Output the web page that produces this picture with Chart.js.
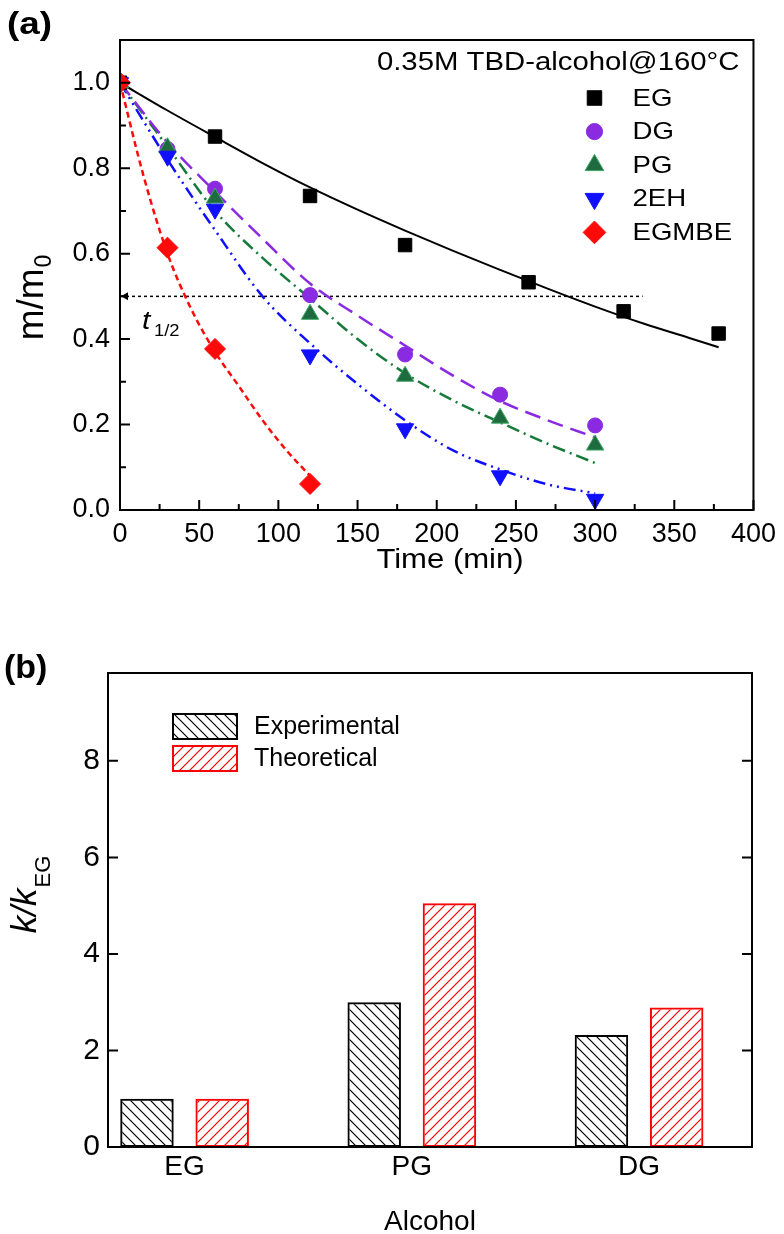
<!DOCTYPE html>
<html>
<head>
<meta charset="utf-8">
<script src="https://cdn.jsdelivr.net/npm/chart.js@4.4.1/dist/chart.umd.min.js"></script>
<style>
  body { margin: 0; background: #fff; }
  #wrap { position: relative; width: 784px; height: 1234px; }
  canvas { position: absolute; left: 0; }
  #chartA { top: 0; }
  #chartB { top: 590px; }
</style>
</head>
<body>
<div id="wrap">
  <canvas id="chartA" width="784" height="590"></canvas>
  <canvas id="chartB" width="784" height="644"></canvas>
</div>
<script>
var FONT = "'Liberation Sans', Arial, sans-serif";

// ---- (a) measured m/m0 against time (min)
var egTime = [0, 60, 120, 180, 258, 318, 378];
var egMass = [1.0, 0.874, 0.735, 0.620, 0.533, 0.465, 0.413];
var dgTime = [0, 30, 60, 120, 180, 240, 300];
var dgMass = [1.0, 0.845, 0.752, 0.503, 0.364, 0.270, 0.198];
var pgTime = [0, 30, 60, 120, 180, 240, 300];
var pgMass = [1.0, 0.848, 0.730, 0.458, 0.313, 0.215, 0.152];
var ehTime = [0, 30, 60, 120, 180, 240, 300];
var ehMass = [1.0, 0.828, 0.704, 0.363, 0.190, 0.080, 0.025];
var egmbeTime = [0, 30, 60, 120];
var egmbeMass = [1.0, 0.614, 0.377, 0.061];

// fitted curves
var egFitTime = [0, 30, 60, 90, 120, 150, 180, 210, 240, 270, 300, 330, 360, 378];
var egFitMass = [1.0, 0.935, 0.873, 0.812, 0.755, 0.703, 0.654, 0.607, 0.562, 0.518, 0.476, 0.437, 0.402, 0.381];
var dgFitTime = [0, 30, 60, 90, 120, 150, 180, 210, 240, 270, 300];
var dgFitMass = [1.0, 0.86, 0.745, 0.635, 0.53, 0.455, 0.385, 0.315, 0.255, 0.21, 0.17];
var pgFitTime = [0, 30, 60, 90, 120, 150, 180, 210, 240, 270, 300];
var pgFitMass = [1.0, 0.85, 0.70, 0.59, 0.495, 0.40, 0.32, 0.257, 0.205, 0.155, 0.11];
var ehFitTime = [0, 30, 60, 90, 120, 150, 180, 210, 240, 270, 300];
var ehFitMass = [1.0, 0.82, 0.655, 0.50, 0.39, 0.295, 0.21, 0.14, 0.095, 0.06, 0.039];
var egmbeFitTime = [0, 15, 30, 45, 60, 75, 90, 105, 120];
var egmbeFitMass = [1.0, 0.78, 0.60, 0.47, 0.37, 0.29, 0.21, 0.14, 0.08];

// half-life guide line
var halfTime = [0, 330];
var halfMass = [0.5, 0.5];

var xTicksA = { min: 0, max: 400, minor: 25, major: 50 };
var yTicksA = { min: 0, max: 1.1, minor: 0.1 };
var legendTitleA = '0.35M TBD-alcohol@160\u00B0C';

// ---- (b) rate constant ratio
var alcohols = ['EG', 'PG', 'DG'];
var experimental = [1.0, 3.0, 2.32];
var theoretical = [1.0, 5.05, 2.89];
var yTicksB = [0, 2, 4, 6, 8];

// the top panel of the original is slightly stretched sideways
var SX = 1.15;

function pts(xs, ys) {
  return xs.map(function (x, i) { return { x: x, y: ys[i] }; });
}

function hatch(color, dir) {
  var c = document.createElement('canvas');
  c.width = 10; c.height = 10;
  var g = c.getContext('2d');
  g.strokeStyle = color;
  g.lineWidth = 1.2;
  g.beginPath();
  if (dir === '/') {
    g.moveTo(0, 10); g.lineTo(10, 0);
    g.moveTo(-2, 2); g.lineTo(2, -2);
    g.moveTo(8, 12); g.lineTo(12, 8);
  } else {
    g.moveTo(0, 0); g.lineTo(10, 10);
    g.moveTo(-2, 8); g.lineTo(2, 12);
    g.moveTo(8, -2); g.lineTo(12, 2);
  }
  g.stroke();
  return g.createPattern(c, 'repeat');
}

function wideText(ctx, text, x, y, sx) {
  ctx.save();
  ctx.translate(x, y);
  ctx.scale(sx, 1);
  ctx.fillText(text, 0, 0);
  ctx.restore();
}

function drawSub(ctx, main, mainFont, sub, subFont, drop) {
  ctx.font = mainFont;
  var w1 = ctx.measureText(main).width;
  ctx.font = subFont;
  var w2 = ctx.measureText(sub).width;
  var x0 = -(w1 + w2) / 2;
  ctx.font = mainFont;
  ctx.fillText(main, x0, 0);
  ctx.font = subFont;
  ctx.fillText(sub, x0 + w1 + 1, drop);
}

/*
 (a) データ点と近似曲線
*/
var series = [
  { name: 'EG', t: egTime, m: egMass, fill: '#000000', edge: '#000000', style: 'rect', r: 9.5, rot: 0, order: 5 },
  { name: 'DG', t: dgTime, m: dgMass, fill: '#8a2be2', edge: '#8a2be2', style: 'circle', r: 7.5, rot: 0, order: 4 },
  { name: 'PG', t: pgTime, m: pgMass, fill: '#1f6a3e', edge: '#3aa860', style: 'triangle', r: 10, rot: 0, order: 3 },
  { name: '2EH', t: ehTime, m: ehMass, fill: '#1010ff', edge: '#1010ff', style: 'triangle', r: 10, rot: 180, order: 2 },
  { name: 'EGMBE', t: egmbeTime, m: egmbeMass, fill: '#ff0a0a', edge: '#ff0a0a', style: 'rectRot', r: 10.5, rot: 0, order: 1 }
];
var fits = [
  { t: egFitTime, m: egFitMass, color: '#000000', dash: [], w: 2 },
  { t: dgFitTime, m: dgFitMass, color: '#8a2be2', dash: [16, 8], w: 2.5 },
  { t: pgFitTime, m: pgFitMass, color: '#157a3a', dash: [13, 5, 2, 5], w: 2.5 },
  { t: ehFitTime, m: ehFitMass, color: '#1010ff', dash: [12, 5, 2, 5, 2, 5], w: 2.5 },
  { t: egmbeFitTime, m: egmbeFitMass, color: '#ff0a0a', dash: [6, 4], w: 2.5 }
];

var datasetsA = [];
series.forEach(function (s) {
  datasetsA.push({
    label: s.name, data: pts(s.t, s.m), showLine: false,
    backgroundColor: s.fill, borderColor: s.edge, pointBackgroundColor: s.fill, pointBorderColor: s.edge,
    pointStyle: s.style, pointRadius: s.r, pointRotation: s.rot, pointBorderWidth: 1, order: s.order
  });
});
fits.forEach(function (f) {
  datasetsA.push({
    label: '', data: pts(f.t, f.m), showLine: true, fill: false,
    borderColor: f.color, borderWidth: f.w, borderDash: f.dash, pointRadius: 0,
    cubicInterpolationMode: 'monotone', order: 10
  });
});
datasetsA.push({
  label: '', data: pts(halfTime, halfMass), showLine: true, fill: false,
  borderColor: '#000', borderWidth: 1.5, borderDash: [3, 3], pointRadius: 0, order: 11
});

var decorA = {
  id: 'decorA',
  afterDraw: function (chart) {
    var ctx = chart.ctx, a = chart.chartArea, xs = chart.scales.x, ys = chart.scales.y;
    ctx.save();
    ctx.strokeStyle = '#000';
    ctx.lineWidth = 2;
    ctx.strokeRect(a.left, a.top, a.right - a.left, a.bottom - a.top);
    ctx.beginPath();
    xs.ticks.forEach(function (t) {
      var px = xs.getPixelForValue(t.value);
      var len = t.value % xTicksA.major === 0 ? 10 : 6;
      ctx.moveTo(px, a.bottom); ctx.lineTo(px, a.bottom - len);
    });
    ys.ticks.forEach(function (t) {
      var py = ys.getPixelForValue(t.value);
      var len = Math.round(t.value * 10) % 2 === 0 ? 10 : 6;
      ctx.moveTo(a.left, py); ctx.lineTo(a.left + len, py);
    });
    ctx.stroke();

    // arrow head of t1/2 line
    var hy = ys.getPixelForValue(halfMass[0]);
    ctx.fillStyle = '#000';
    ctx.beginPath();
    ctx.moveTo(a.left + 1, hy);
    ctx.lineTo(a.left + 8, hy - 4);
    ctx.lineTo(a.left + 8, hy + 4);
    ctx.closePath();
    ctx.fill();

    ctx.textBaseline = 'alphabetic';
    ctx.textAlign = 'left';
    ctx.font = 'italic 26px ' + FONT;
    wideText(ctx, 't', a.left + 22, hy + 33, SX);
    ctx.font = '16px ' + FONT;
    wideText(ctx, '1/2', a.left + 34, hy + 40, SX);

    // legend
    ctx.font = '25.5px ' + FONT;
    ctx.textAlign = 'right';
    ctx.textBaseline = 'middle';
    wideText(ctx, legendTitleA, a.right - 14, a.top + 23, SX);
    ctx.textAlign = 'left';
    series.forEach(function (s, i) {
      var y = a.top + 58 + i * 33.6;
      ctx.fillStyle = s.fill;
      ctx.strokeStyle = s.edge;
      ctx.lineWidth = 1;
      Chart.helpers.drawPoint(ctx, { pointStyle: s.style, radius: s.r * 1.08, rotation: s.rot, borderWidth: 1 }, a.right - 159, y);
      ctx.fillStyle = '#000';
      ctx.font = '24px ' + FONT;
      wideText(ctx, s.name, a.right - 121, y + 1, SX);
    });

    // axis titles
    ctx.fillStyle = '#000';
    ctx.textBaseline = 'alphabetic';
    ctx.textAlign = 'left';
    ctx.save();
    ctx.translate(43, 298);
    ctx.rotate(-Math.PI / 2);
    drawSub(ctx, 'm/m', '37px ' + FONT, '0', '23px ' + FONT, 8);
    ctx.restore();

    ctx.font = '27px ' + FONT;
    ctx.textAlign = 'center';
    wideText(ctx, 'Time (min)', 450, 568, SX);

    ctx.font = 'bold 32px ' + FONT;
    ctx.textAlign = 'left';
    wideText(ctx, '(a)', 7, 34, SX);
    ctx.restore();
  }
};

new Chart(document.getElementById('chartA').getContext('2d'), {
  type: 'scatter',
  data: { datasets: datasetsA },
  options: {
    responsive: false,
    animation: false,
    layout: { padding: { top: 40, right: 24, left: 0, bottom: 0 } },
    plugins: { legend: { display: false }, tooltip: { enabled: false } },
    scales: {
      x: {
        type: 'linear', min: xTicksA.min, max: xTicksA.max,
        grid: { display: false, drawTicks: false }, border: { display: false },
        ticks: {
          stepSize: xTicksA.minor, autoSkip: false, maxRotation: 0, padding: 8, color: '#000',
          font: { family: FONT, size: 27 },
          callback: function (v) { return v % xTicksA.major === 0 ? String(v) : ''; }
        },
        afterFit: function (s) { s.height = 80; }
      },
      y: {
        type: 'linear', min: yTicksA.min, max: yTicksA.max,
        grid: { display: false, drawTicks: false }, border: { display: false },
        ticks: {
          stepSize: yTicksA.minor, autoSkip: false, padding: 10, color: '#000',
          font: { family: FONT, size: 27 },
          callback: function (v) {
            var n = Math.round(v * 10);
            return n % 2 === 0 && n <= 10 ? (n / 10).toFixed(1) : '';
          }
        },
        afterFit: function (s) { s.width = 120; }
      }
    }
  },
  plugins: [decorA]
});

/*
 (b) k/kEG 棒グラフ
*/
var expFill = hatch('#000000', '\\');
var theoFill = hatch('#ff0000', '/');
var barSets = [
  { label: 'Experimental', values: experimental, fill: expFill, edge: '#000000' },
  { label: 'Theoretical', values: theoretical, fill: theoFill, edge: '#ff0000' }
];
var datasetsB = barSets.map(function (b) {
  return {
    label: b.label,
    data: b.values.map(function (v, i) { return { x: i + 1, y: v }; }),
    backgroundColor: b.fill, borderColor: b.edge, borderWidth: 2, borderSkipped: false,
    categoryPercentage: 0.662, barPercentage: 0.711
  };
});

var decorB = {
  id: 'decorB',
  afterDraw: function (chart) {
    var ctx = chart.ctx, a = chart.chartArea, ys = chart.scales.y;
    ctx.save();
    ctx.strokeStyle = '#000';
    ctx.lineWidth = 2;
    ctx.strokeRect(a.left, a.top, a.right - a.left, a.bottom - a.top);
    ctx.beginPath();
    ys.ticks.forEach(function (t) {
      var py = ys.getPixelForValue(t.value);
      ctx.moveTo(a.left, py); ctx.lineTo(a.left + 10, py);
      ctx.moveTo(a.right, py); ctx.lineTo(a.right - 10, py);
    });
    ctx.stroke();

    // legend
    barSets.forEach(function (b, i) {
      var bx = a.left + 65, by = a.top + 41 + i * 32;
      ctx.fillStyle = b.fill;
      ctx.fillRect(bx, by, 64, 25);
      ctx.strokeStyle = b.edge;
      ctx.lineWidth = 2;
      ctx.strokeRect(bx, by, 64, 25);
      ctx.fillStyle = '#000';
      ctx.font = '25px ' + FONT;
      ctx.textBaseline = 'middle';
      ctx.textAlign = 'left';
      ctx.fillText(b.label, bx + 81, by + 13);
    });

    ctx.fillStyle = '#000';
    ctx.textBaseline = 'alphabetic';
    ctx.save();
    ctx.translate(36, 305);
    ctx.rotate(-Math.PI / 2);
    drawSub(ctx, 'k/k', 'italic 35px ' + FONT, 'EG', '22px ' + FONT, 14);
    ctx.restore();

    ctx.font = '28px ' + FONT;
    ctx.textAlign = 'center';
    ctx.fillText('Alcohol', 430, 640);

    ctx.font = 'bold 34px ' + FONT;
    ctx.textAlign = 'left';
    ctx.fillText('(b)', 4, 88);
    ctx.restore();
  }
};

new Chart(document.getElementById('chartB').getContext('2d'), {
  type: 'bar',
  data: { datasets: datasetsB },
  options: {
    responsive: false,
    animation: false,
    layout: { padding: { top: 83, right: 32, left: 0, bottom: 0 } },
    plugins: { legend: { display: false }, tooltip: { enabled: false } },
    scales: {
      x: {
        type: 'linear', min: 0.663, max: 3.497, offset: false,
        grid: { display: false, drawTicks: false }, border: { display: false },
        ticks: {
          stepSize: 1, includeBounds: false, autoSkip: false, maxRotation: 0, padding: 3, color: '#000',
          font: { family: FONT, size: 28 },
          callback: function (v) { return Number.isInteger(v) ? (alcohols[v - 1] || '') : ''; }
        },
        afterFit: function (s) { s.height = 87; }
      },
      y: {
        type: 'linear', min: 0, max: 9.82,
        grid: { display: false, drawTicks: false }, border: { display: false },
        afterBuildTicks: function (s) { s.ticks = yTicksB.map(function (v) { return { value: v }; }); },
        ticks: { padding: 8, color: '#000', font: { family: FONT, size: 30 } },
        afterFit: function (s) { s.width = 108; }
      }
    }
  },
  plugins: [decorB]
});
</script>
</body>
</html>
